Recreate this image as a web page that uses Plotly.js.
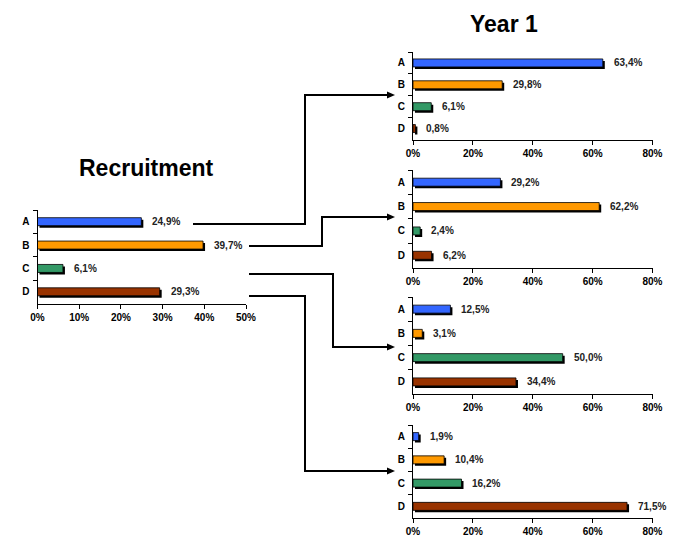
<!DOCTYPE html>
<html>
<head>
<meta charset="utf-8">
<script src="https://cdn.plot.ly/plotly-3.0.1.min.js"></script>
<style>
  html, body { margin: 0; padding: 0; background: #fff; }
  #chart { width: 685px; height: 553px; }
</style>
</head>
<body>
<div id="chart"></div>
<script>
// DATA
const categories = ["A", "B", "C", "D"];
const recruitment = [24.9, 39.7, 6.1, 29.3];
const year1FromA = [63.4, 29.8, 6.1, 0.8];
const year1FromB = [29.2, 62.2, 2.4, 6.2];
const year1FromC = [12.5, 3.1, 50.0, 34.4];
const year1FromD = [1.9, 10.4, 16.2, 71.5];

const barColors = ["#3366FF", "#FF9900", "#339966", "#993300"];
const FONT = "Liberation Sans, Arial, sans-serif";

// page is 685x553, margins are zero so paper == pixels
const W = 685, H = 553;
const px = (p) => p / W;
const py = (p) => 1 - p / H;

// plot boxes in pixels: [left, right, top, bottom]
const panels = [
  { values: recruitment, box: [37.5, 246, 210, 303.5], max: 50, dtick: 10 },
  { values: year1FromA, box: [413, 652.5, 52, 139.5], max: 80, dtick: 20 },
  { values: year1FromB, box: [413, 652.5, 170, 267.5], max: 80, dtick: 20 },
  { values: year1FromC, box: [413, 652.5, 297, 394], max: 80, dtick: 20 },
  { values: year1FromD, box: [413, 652.5, 425, 518], max: 80, dtick: 20 },
];

const fmt = (v) => v.toFixed(1).replace(".", ",") + "%";

const data = [];
const layout = {
  width: W,
  height: H,
  margin: { l: 0, r: 0, t: 0, b: 0 },
  paper_bgcolor: "#fff",
  plot_bgcolor: "rgba(0,0,0,0)",
  barmode: "overlay",
  showlegend: false,
  font: { family: FONT, size: 10, color: "#000" },
  annotations: [],
  shapes: [],
};

panels.forEach((p, i) => {
  const s = i === 0 ? "" : String(i + 1);
  const [l, r, t, b] = p.box;
  const step = (b - t) / categories.length;
  const barW = 8 / step;
  // shadow: 2px right and down
  const shiftX = (2 * p.max) / (r - l);
  const shiftY = 2 / step;

  data.push({
    type: "bar",
    orientation: "h",
    y: categories,
    x: p.values,
    base: shiftX,
    width: barW,
    offset: -barW / 2 + shiftY,
    marker: { color: "#000" },
    xaxis: "x" + s,
    yaxis: "y" + s,
    hoverinfo: "skip",
  });
  data.push({
    type: "bar",
    orientation: "h",
    y: categories,
    x: p.values,
    width: barW,
    offset: -barW / 2,
    marker: { color: barColors, line: { color: "#000", width: 0.8 } },
    xaxis: "x" + s,
    yaxis: "y" + s,
  });

  layout["xaxis" + s] = {
    domain: [px(l), px(r)],
    anchor: "y" + s,
    range: [0, p.max],
    dtick: p.dtick,
    ticksuffix: "%",
    showline: true,
    linecolor: "#000",
    linewidth: 1,
    ticks: "outside",
    ticklen: 4,
    tickcolor: "#000",
    showgrid: false,
    zeroline: false,
    tickfont: { family: FONT, size: 10, weight: "bold", color: "#000" },
    fixedrange: true,
  };
  layout["yaxis" + s] = {
    domain: [py(b), py(t)],
    anchor: "x" + s,
    type: "category",
    categoryarray: categories,
    range: [categories.length - 0.5, -0.5],
    tickson: "boundaries",
    ticks: "outside",
    ticklen: 4,
    tickcolor: "#000",
    ticklabelstandoff: 5,
    showline: true,
    linecolor: "#000",
    linewidth: 1,
    showgrid: false,
    zeroline: false,
    tickfont: { family: FONT, size: 10, weight: "bold", color: "#000" },
    fixedrange: true,
  };

  p.values.forEach((v, k) => {
    layout.annotations.push({
      xref: "x" + s,
      yref: "y" + s,
      x: v,
      y: categories[k],
      text: fmt(v),
      showarrow: false,
      xanchor: "left",
      xshift: 9,
      font: { family: FONT, size: 10, weight: "bold", color: "#222" },
    });
  });
});

// titles
layout.annotations.push({
  xref: "paper", yref: "paper", x: px(146), y: py(168),
  text: "Recruitment", showarrow: false, xanchor: "center", yanchor: "middle",
  font: { family: FONT, size: 23, weight: "bold", color: "#000" },
});
layout.annotations.push({
  xref: "paper", yref: "paper", x: px(504), y: py(24),
  text: "Year 1", showarrow: false, xanchor: "center", yanchor: "middle",
  font: { family: FONT, size: 23, weight: "bold", color: "#000" },
});

// connector arrows (pixel points)
const arrows = [
  [[193, 224], [305, 224], [305, 95], [388, 95]],
  [[249, 246], [322, 246], [322, 217], [388, 217]],
  [[249, 274], [333, 274], [333, 347], [388, 347]],
  [[249, 296], [305, 296], [305, 471], [388, 471]],
];
arrows.forEach((pts) => {
  const path = pts.map((q, j) => (j ? "L" : "M") + px(q[0]) + "," + py(q[1])).join(" ");
  layout.shapes.push({
    type: "path", xref: "paper", yref: "paper", path: path,
    line: { color: "#000", width: 2 },
  });
  const end = pts[pts.length - 1];
  const tip = end[0] + 7;
  const head = "M" + px(tip) + "," + py(end[1]) +
    " L" + px(end[0] - 1) + "," + py(end[1] - 3.5) +
    " L" + px(end[0] - 1) + "," + py(end[1] + 3.5) + " Z";
  layout.shapes.push({
    type: "path", xref: "paper", yref: "paper", path: head,
    fillcolor: "#000", line: { color: "#000", width: 0 },
  });
});

Plotly.newPlot("chart", data, layout, { displayModeBar: false, staticPlot: true });
</script>
</body>
</html>
